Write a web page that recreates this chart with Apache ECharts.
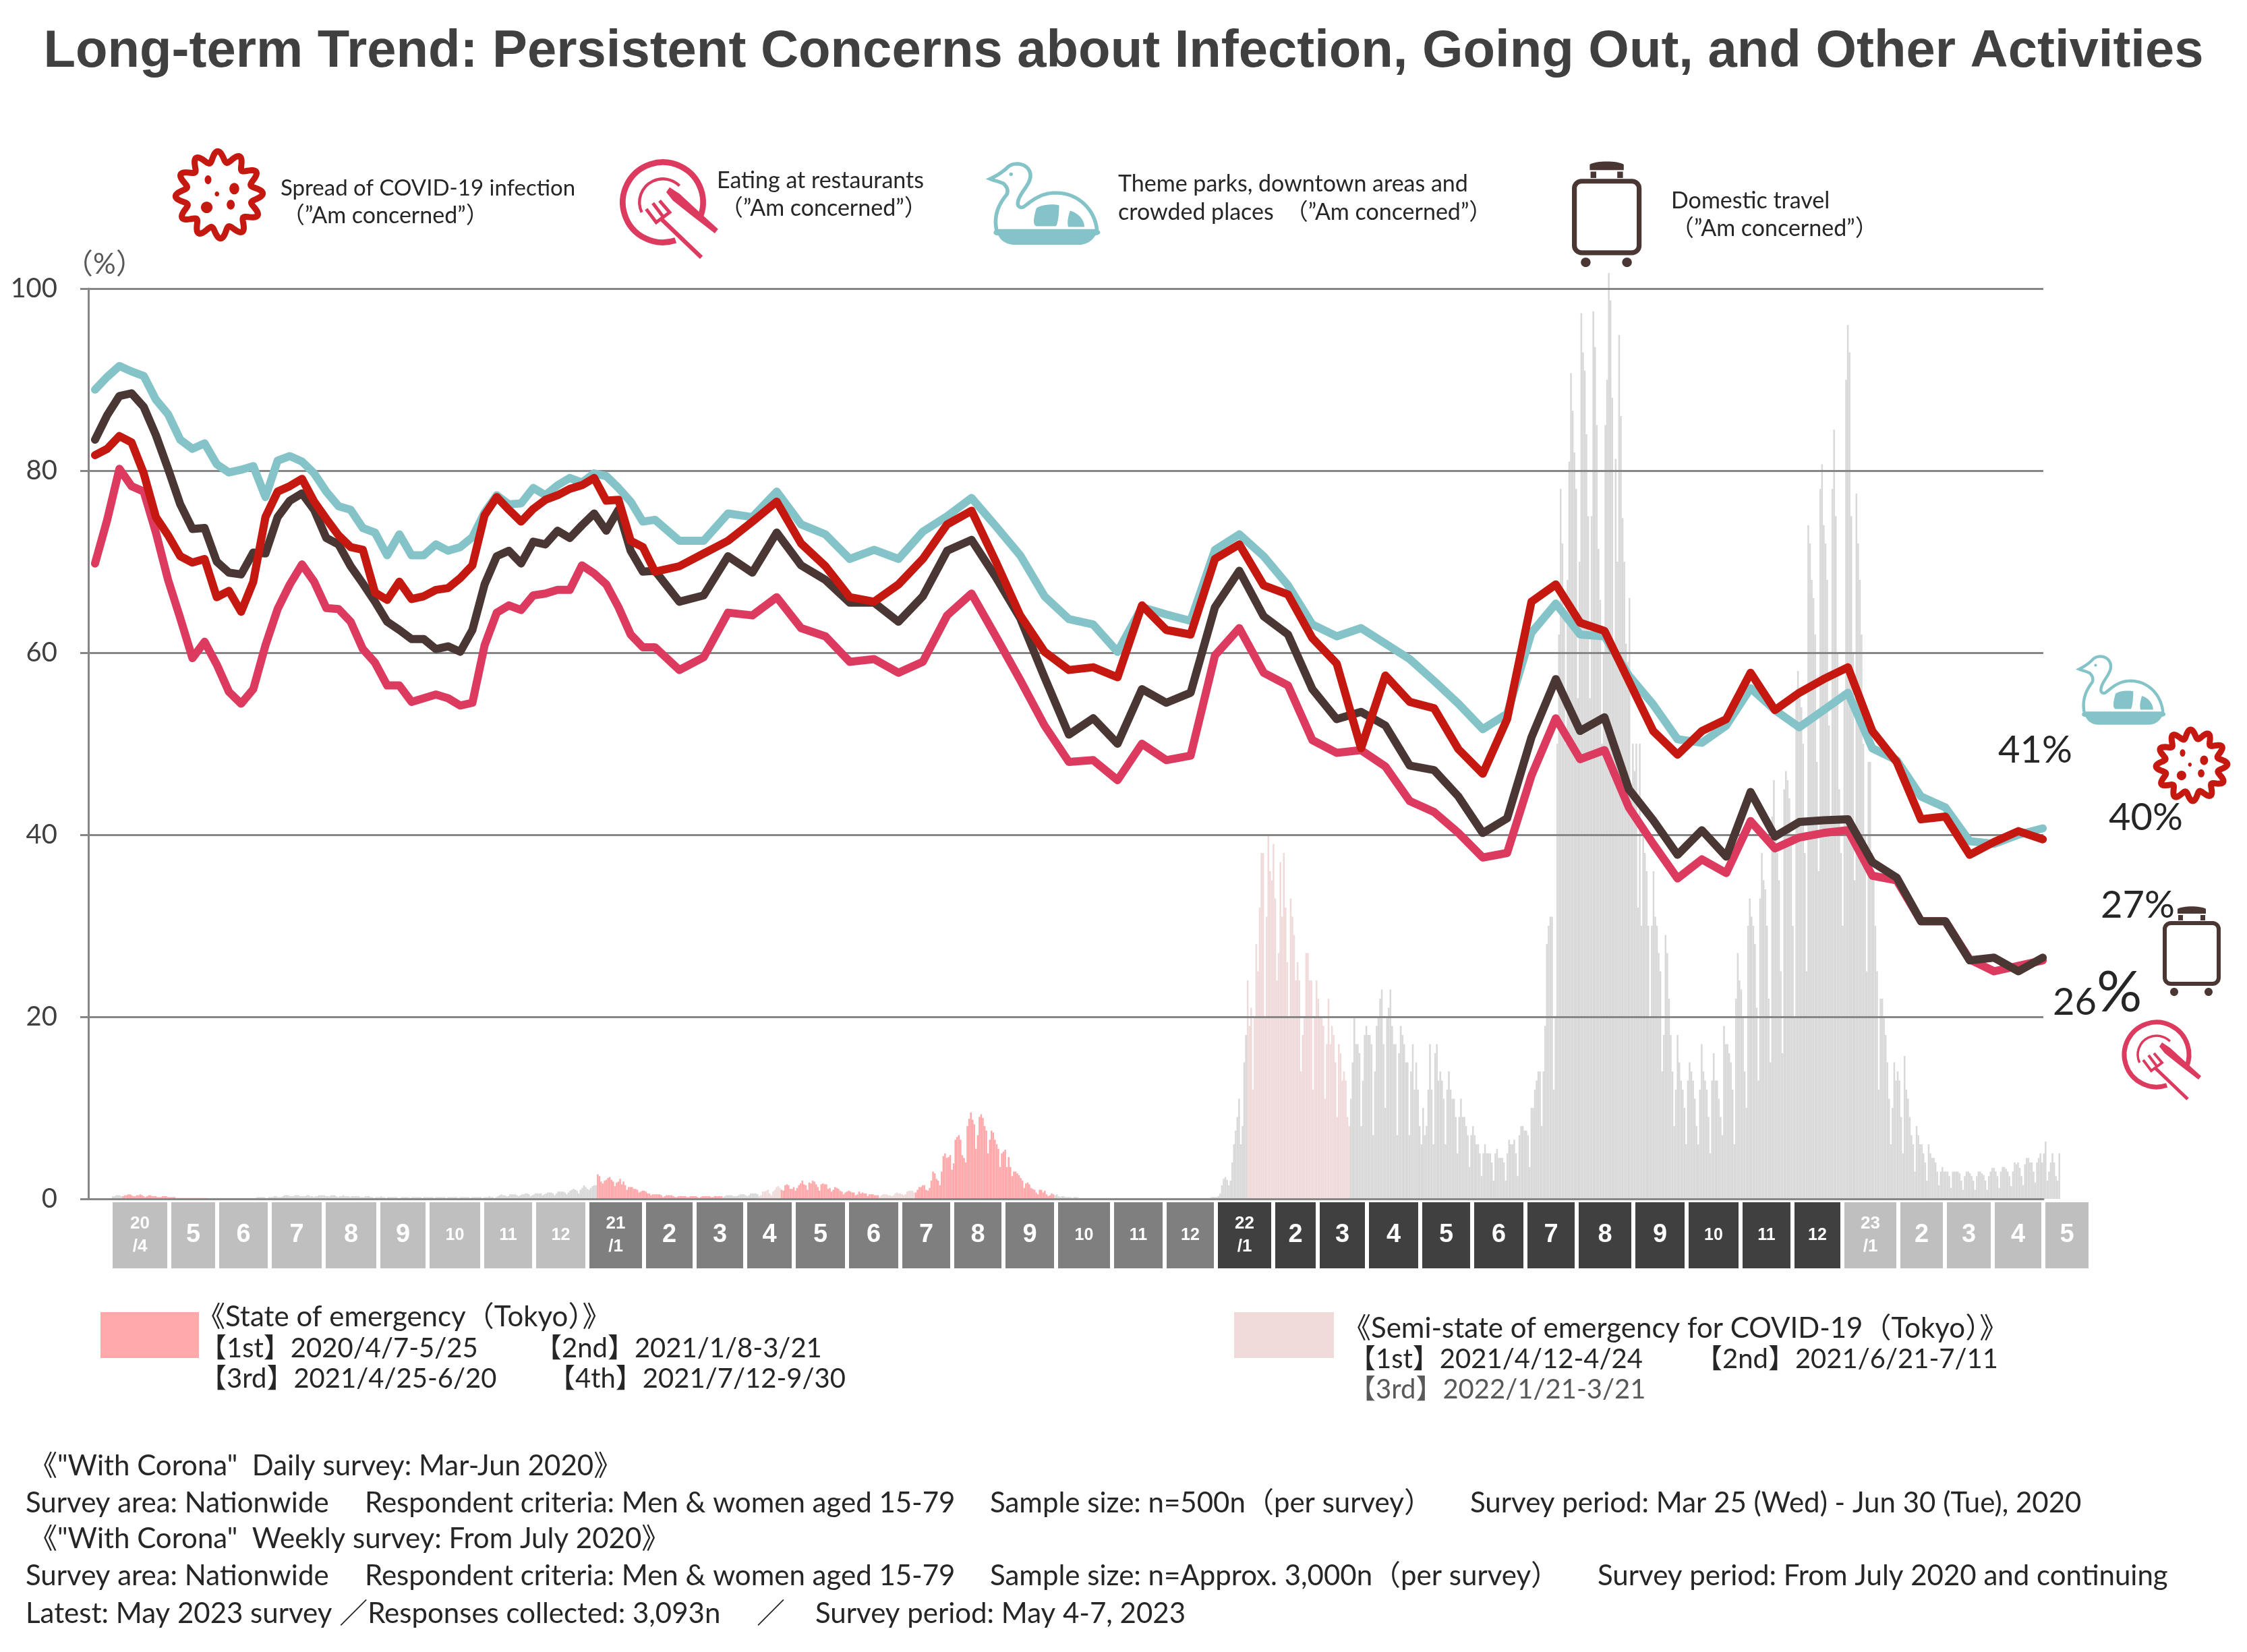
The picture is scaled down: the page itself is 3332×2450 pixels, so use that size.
<!DOCTYPE html>
<html><head><meta charset="utf-8">
<style>html,body{margin:0;padding:0;background:#fff}#c{width:3332px;height:2450px}</style>
<script src="https://cdn.jsdelivr.net/npm/echarts@6/dist/echarts.min.js"></script>
</head><body><div id="c"></div>
<script>
const TITLE = 'Long-term Trend: Persistent Concerns about Infection, Going Out, and Other Activities';

// survey position in weeks since 2020/3/25
const surveyWeeks = [0,1,2,3,4,5,6,7,8,9,10,11,12,13,14,15,16,17,18,19,20,21,22,23,24,25,26,27,28,29,30,31,32,33,34,35,36,37,38,39,40,41,42,43,44,45,46,
 48,50,52,54,56,58,60,62,64,66,68,70,72,74,76,78,80,82,84,86,88,90,92,94,96,98,100,102,104,106,108,110,112,114,116,118,120,122,124,126,128,130,132,134,136,138,140,142,144,146,148,150,152,154,156,158,160];

const themeParks = [88.9,90.3,91.5,90.9,90.4,87.8,86.2,83.4,82.4,83,80.7,79.8,80.1,80.5,77.1,81.1,81.6,81,79.7,77.7,76.1,75.7,73.7,73.2,70.7,73,70.7,70.7,71.9,71.2,71.6,72.7,75.4,77.3,76.3,76.4,78.1,77.3,78.4,79.2,78.7,79.7,79.4,78.1,76.6,74.4,74.6,
 72.3,72.3,75.3,74.9,77.7,74.1,73,70.3,71.3,70.3,73.3,75,77,73.9,70.7,66.2,63.7,63.1,60.1,65,64.2,63.5,71.3,73,70.6,67.4,63.1,61.8,62.7,61,59.3,56.9,54.4,51.6,53.3,62.2,65.4,62,61.8,57.5,54.3,50.5,50.1,52,56.1,53.7,51.8,53.7,55.6,49.5,48.2,44.2,43,39.3,39,40,40.7];
const restaurants = [69.8,74.6,80.2,78.3,77.7,73.2,68,63.8,59.4,61.2,58.7,55.7,54.4,56,60.8,64.8,67.5,69.7,67.8,64.9,64.8,63.4,60.4,58.9,56.4,56.4,54.6,55,55.4,55,54.2,54.5,60.8,64.4,65.2,64.7,66.3,66.5,66.9,66.9,69.6,68.7,67.5,65,62,60.6,60.6,
 58.1,59.5,64.4,64.1,66.1,62.7,61.8,59,59.3,57.8,59,64.1,66.5,61.8,57,52,48,48.2,46,50,48.2,48.7,59.7,62.7,57.8,56.4,50.4,49,49.3,47.5,43.7,42.5,40.2,37.5,38,46.5,52.8,48.3,49.3,43,39,35.2,37.3,35.8,41.5,38.5,39.7,40.2,40.5,35.5,35,30.5,30.5,26.3,25,25.6,26.2];
const domesticTravel = [83.4,86.1,88.2,88.5,87,83.9,80.2,76.3,73.6,73.7,70,68.8,68.6,71,70.9,74.9,76.7,77.5,75.7,72.6,71.9,69.5,67.6,65.6,63.4,62.5,61.5,61.5,60.4,60.7,60.1,62.5,67.5,70.6,71.2,69.8,72.2,71.9,73.4,72.6,74,75.3,73.4,75.7,71.2,68.9,69,
 65.6,66.3,70.6,68.8,73.2,69.6,68,65.5,65.5,63.4,66.2,71.2,72.4,68.3,63.8,57.3,51,52.8,50,56,54.5,55.6,65,69,64,62,56,52.7,53.5,52,47.6,47.1,44.2,40.2,41.8,50.7,57.1,51.4,52.9,45,41.6,37.8,40.5,37.6,44.7,39.8,41.4,41.6,41.7,37,35.3,30.5,30.5,26.2,26.5,25,26.5];
const infection = [81.7,82.4,83.8,83.1,79.7,74.9,72.9,70.6,69.9,70.3,66.1,66.8,64.5,67.8,74.9,77.7,78.3,79.1,76.6,74.7,72.9,71.6,71.3,66.6,65.8,67.8,65.9,66.2,66.9,67.1,68.2,69.6,75.1,77.1,75.7,74.4,75.8,76.8,77.3,78,78.4,79.2,76.7,76.8,72.3,71.6,68.9,
 69.5,70.9,72.3,74.4,76.6,72,69.5,66.1,65.6,67.5,70.3,74.1,75.6,70,64.1,60.1,58.1,58.4,57.3,65.2,62.5,62,70.3,71.9,67.4,66.4,61.6,58.8,49.5,57.5,54.6,53.9,49.4,46.7,52.7,65.6,67.5,63.3,62.4,56.9,51.4,48.8,51.4,52.7,57.8,53.7,55.6,57.1,58.4,51.4,48,41.7,42,37.8,39.2,40.4,39.5];

// daily new cases in Tokyo, chart-height scale, one row per week, starting Wed 2020/4/1
const FIRST_DAY = '2020-04-01';
const dailyCases = [
.3,.3,.4,.4,.4,.3,.3, .4,.4,.5,.5,.4,.3,.3, .4,.4,.5,.4,.3,.2,.3, .4,.4,.3,.3,.3,.2,.2, .2,.3,.3,.3,.2,.2,.2,
.2,.2,.1,.1,.1,.1,.1, .1,.1,.1,.1,.1,.1,.1, .1,.1,.1,.1,.1,.1,.1, .1,.1,.1,.1,.1,.1,.1, .1,.1,.1,.1,.1,.1,.1,
.1,.1,.1,.1,.1,.1,.1, .1,.1,.1,.1,.1,.1,.1, .2,.2,.2,.2,.2,.1,.1, .2,.2,.2,.3,.3,.2,.2, .2,.3,.4,.4,.4,.3,.3,
.3,.4,.4,.4,.3,.3,.3, .3,.4,.4,.3,.3,.2,.3, .3,.4,.4,.4,.4,.3,.3, .3,.4,.4,.4,.3,.2,.3, .3,.4,.3,.3,.3,.2,.3,
.3,.3,.3,.3,.2,.2,.2, .3,.3,.3,.2,.2,.1,.2, .2,.2,.3,.2,.2,.1,.2, .2,.2,.2,.2,.2,.1,.1, .2,.2,.2,.2,.2,.1,.2,
.2,.2,.2,.2,.2,.1,.2, .2,.2,.2,.2,.2,.1,.2, .2,.2,.2,.2,.2,.1,.2, .2,.2,.2,.2,.2,.1,.2, .2,.2,.2,.2,.2,.1,.2,
.2,.2,.2,.2,.2,.1,.2, .2,.2,.3,.2,.2,.1,.2, .3,.4,.5,.4,.4,.3,.3, .5,.5,.5,.5,.4,.3,.4, .5,.5,.6,.6,.5,.3,.4,
.5,.6,.6,.6,.6,.4,.5, .6,.7,.7,.7,.6,.4,.6, .8,.8,.8,.8,.7,.5,.7, .9,1,1.1,1,.9,.6,1, 1.2,1.5,1.3,1.1,1,1.2,1.4,
1.5,1.5,2.7,2.5,1.9,1.7,2, 2.1,2.3,2.4,2.1,1.9,1.4,1.8, 1.9,2.2,1.6,1.9,1.5,1,1.3, 1.3,1.3,1.1,1.1,1,.7,.8, .9,.9,.8,.6,.6,.4,.5,
.5,.5,.5,.5,.4,.2,.3, .4,.4,.4,.4,.3,.2,.2, .3,.3,.3,.3,.3,.2,.2, .3,.3,.3,.3,.2,.1,.2, .3,.3,.3,.3,.3,.2,.2,
.3,.3,.3,.3,.3,.2,.3, .4,.4,.4,.4,.3,.3,.3, .4,.5,.5,.5,.4,.3,.4, .6,.6,.6,.6,.5,.3,.4, .8,.8,.9,1,.6,.4,.8,
1,1.3,1.4,1.2,1,.9,1.5, 1.6,1.5,1.1,1.1,1.3,.9,1.2, 1.5,1.7,2,1.6,1.5,1,1.8, 1.7,2,1.9,1.6,1.3,.9,1.6, 1.7,1.6,1.6,1.1,1.2,.8,1,
1.3,1.2,1.1,.9,.8,.5,.7, .8,.9,.8,.7,.7,.4,.5, .8,.6,.7,.6,.6,.3,.5, .5,.5,.4,.4,.4,.2,.4, .5,.5,.5,.4,.4,.3,.4,
.6,.7,.6,.6,.5,.4,.5, .8,.9,.9,.9,.7,.7,1, 1.3,1.3,1.5,1.5,1,.9,1.2, 2,3,2.8,2.2,2,1.5,3, 4.7,5,4.5,4.6,4.8,3.2,3.9,
6.5,6.8,7,6.5,4.8,4.5,4, 8,8.8,9.5,8.7,8.2,5.5,7, 9,9.3,8.9,8,7.5,5,6.5, 7.5,7.3,6.5,6,5.5,3.5,5, 5.2,5.4,3.5,4.6,3.5,2.5,3,
3,2.8,2.6,2.3,2,1.2,1.7, 1.8,1.6,1.2,1.1,1,.7,.5, 1,1,.7,.9,.5,.3,.4, .6,.5,.4,.5,.3,.2,.3, .3,.2,.2,.2,.2,.1,.2,
.2,.2,.1,.1,.1,.1,.1, .1,.1,.1,.1,.1,.1,.1, .1,.1,.1,.1,.1,.1,.1, .1,.1,.1,.1,.1,.1,.1, .1,.1,.1,.1,.1,.1,.1,
.1,.1,.1,.1,.1,.1,.1, .1,.1,.1,.1,.1,.1,.1, .1,.1,.1,.1,.1,.1,.1, .1,.1,.1,.1,.1,.1,.1, .1,.1,.1,.1,.1,.1,.1, .1,.1,.1,.1,.1,.1,.1,
.1,.1,.2,.2,.2,.2,.3, .6,1.5,2.2,2.4,2.1,1.5,2, 4,6,7.5,9,11,6,8, 15,18,24,19,21,12,20, 28,25,32,38,38,20,31,
40,36,35,39,33,24,27, 37,31,38,32,26,20,33, 31,29,24,26,24,14,18, 20,27,27,24,24,12,20, 24,22,20,20,19,11,17,
22,17,19,18,15,9,17, 16,13,14,13,9,8,11, 15,20,17,17,16,8,13, 18,19,18,18,17,7,14, 19,20,22,23,17,10,20,
21,23,19,17,17,7,16, 19,18,17,15,15,7,14, 17,12,15,12,8,6,10, 7,8,12,17,12,6,16, 17,13,14,13,11,6,12,
14,12,11,11,9,5,9, 11,9,9,8,7,3.5,7, 8,7,6,6,5,2.5,5, 6,5,5,5,4,2,5, 5.5,4.5,4.5,4.5,4,2,5,
6.5,6,6,6.5,5,2.5,7, 8,8,7.5,7.5,7,3.5,10, 10,12,13,14,14,8,14, 19,28,30,31,31,12,20,
50,62,78,72,65,50,68, 81,90.7,86.6,82,78,55,70, 97.3,93,91,84,75,55,75, 97.5,93.6,85,71.4,65.8,50,60, 85,90,101.7,98.7,88,60,81.3,
70,94.9,86,74.8,70,61,59, 66,45,50,47,50,32,50, 30,40,38,36,30,20,30, 36,31,30,27,25,14,18, 29,27,22,18,14,8,12,
18,15,13,12,10,6,13, 15,14,13,11,8,6,12, 17,14,13,12,9,5,13, 16,13,13,11,9,7,19, 17,17,16,15,12,6,22,
27,24,23,20,14,10,30, 33,31,30,28,21,13,33, 38,35,34,30,22,15,42, 46,40,38,35,25,16,45, 47,46,44,40,30,20,55,
58,55,54,50,38,25,74, 72,68,66,62,48,36,78, 80.7,74,72,68,52,42,78, 84.5,75,60,45,38,30,55, 90,96,93,75,60,35,77.5,
72,68,62,50,40,25,48, 48,38,35,30,25,12,22, 22,20,18,15,11,6,10, 15,13,14,13,9,5,15.7, 12,11,9,7,6,3,8,
7,6,6,5,4,2,6, 5,4.5,4.5,4,3,1.5,3, 3.5,3,3,3,2.5,1.2,3, 3,3,3,2.8,2,1,2.5, 3,3,2.8,2.5,2,1,2.5,
3,3,2.8,2.6,2,1,2.5, 3,3.4,3.4,3,2.5,1.2,3, 3.5,3.5,3.3,3,2.5,1.4,3, 4,3.8,4,3.4,2.5,1.5,3.8, 4.5,4.5,4,4,3,1.8,4,
4.5,5,4,5,6.3,2,3, 4,5,4,2.5,2,5
];

const emergencyPeriods = [['2020-04-07','2020-05-25'],['2021-01-08','2021-03-21'],['2021-04-25','2021-06-20'],['2021-07-12','2021-09-30']];
const semiPeriods = [['2021-04-12','2021-04-24'],['2021-06-21','2021-07-11'],['2022-01-21','2022-03-21']];

const monthLabels = ['20\n/4','5','6','7','8','9','10','11','12','21\n/1','2','3','4','5','6','7','8','9','10','11','12','22\n/1','2','3','4','5','6','7','8','9','10','11','12','23\n/1','2','3','4','5'];
const monthPeriod = [0,0,0,0,0,0,0,0,0,1,1,1,1,1,1,1,1,1,1,1,1,2,2,2,2,2,2,2,2,2,2,2,2,0,0,0,0,0];
// relative span of each month cell in the strip
const monthSpan = [87,71,78,80,81,73,81,77,79,84,75,75,72,79,79,77,76,78,83,78,76,85,66,73,79,77,79,76,84,79,80,77,74,83,69,71,75,70];

const legendNotes = [
 ['Spread of COVID-19 infection','（”Am concerned”）'],
 ['Eating at restaurants','（”Am concerned”）'],
 ['Theme parks, downtown areas and','crowded places　（”Am concerned”）'],
 ['Domestic travel','（”Am concerned”）']
];
const endLabels = ['41%','40%','27%','26'];
const emergencyText = ['《State of emergency（Tokyo）》','【1st】2020/4/7-5/25','【2nd】2021/1/8-3/21','【3rd】2021/4/25-6/20','【4th】2021/7/12-9/30'];
const semiText = ['《Semi-state of emergency for COVID-19（Tokyo）》','【1st】2021/4/12-4/24','【2nd】2021/6/21-7/11','【3rd】2022/1/21-3/21'];
const footerText = [
 '《"With Corona"  Daily survey: Mar-Jun 2020》',
 'Survey area: Nationwide','Respondent criteria: Men & women aged 15-79','Sample size: n=500n（per survey）','Survey period: Mar 25 (Wed) - Jun 30 (Tue), 2020',
 '《"With Corona"  Weekly survey: From July 2020》',
 'Survey area: Nationwide','Respondent criteria: Men & women aged 15-79','Sample size: n=Approx. 3,000n（per survey）','Survey period: From July 2020 and continuing',
 'Latest: May 2023 survey ／Responses collected: 3,093n','／','Survey period: May 4-7, 2023'
];

// ---- colours & fonts
const TEAL='#84C4C9', BROWN='#4A3632', RED='#C41810', PINK='#DC3B5F', GRID='#868686';
const FONT="Lato,'Noto Sans CJK JP',sans-serif";
const BOLD="'Liberation Sans',Arial,sans-serif";
const EMERG='#FFA9AB', SEMI='#F0DADA', OTHER='#D9D9D9';
const periodColors=['#BFBFBF','#7F7F7F','#404040'];

// ---- day colours from the period tables
const dayMs=86400000, t0=Date.parse(FIRST_DAY);
function inside(t,list){return list.some(p=>t>=Date.parse(p[0])&&t<=Date.parse(p[1]));}
const barData=dailyCases.map((v,i)=>{const t=t0+i*dayMs;
  return {value:v,itemStyle:{color:inside(t,emergencyPeriods)?EMERG:inside(t,semiPeriods)?SEMI:OTHER}};});
const lineData=a=>a.map((v,i)=>[surveyWeeks[i],v]);

// ---- icons
// outline commands (M, L, C, Z with absolute coords) sampled to polygon vertices for the graphic component
function outline(d){
  const n=d.match(/[MLCZ]|-?[\d.]+/g);let i=0,pts=[],cur=[0,0];
  while(i<n.length){const c=n[i++];
    if(c==='M'||c==='L'){cur=[+n[i++],+n[i++]];pts.push(cur);}
    else if(c==='C'){const a=[+n[i++],+n[i++]],b=[+n[i++],+n[i++]],e=[+n[i++],+n[i++]];
      for(let s=1;s<=16;s++){const t=s/16,u=1-t;
        pts.push([u*u*u*cur[0]+3*u*u*t*a[0]+3*u*t*t*b[0]+t*t*t*e[0],u*u*u*cur[1]+3*u*u*t*a[1]+3*u*t*t*b[1]+t*t*t*e[1]]);}
      cur=e;}
  }
  return pts;
}
function virus(cx,cy,R){
  const pts=[];for(let i=0;i<240;i++){const a=i/240*2*Math.PI;const r=R*(0.86+0.12*Math.cos(12*a+0.4));pts.push([r*Math.cos(a),r*Math.sin(a)]);}
  const k=R/100,lw=Math.max(9,R*0.13);
  const dots=[[-25,-34,7.5,10],[34,-14,11,13],[-5,-2,5,5.5],[-28,28,13,13],[26,22,9,11]];
  return {type:'group',x:cx,y:cy,silent:true,children:[
    {type:'polygon',shape:{points:pts},style:{fill:null,stroke:RED,lineWidth:lw}},
    ...dots.map(d=>({type:'ellipse',shape:{cx:d[0]*k,cy:d[1]*k,rx:d[2]*k,ry:d[3]*k},style:{fill:RED}}))]};
}
function plate(cx,cy,s){
  return {type:'group',x:cx,y:cy,scaleX:s,scaleY:s,silent:true,children:[
    {type:'arc',shape:{cx:0,cy:0,r:48,startAngle:1.25,endAngle:0.42+2*Math.PI},style:{stroke:PINK,fill:null,lineWidth:7,lineCap:'butt'}},
    {type:'arc',shape:{cx:0,cy:0,r:28,startAngle:2.7,endAngle:5.5},style:{stroke:PINK,fill:null,lineWidth:3.5,lineCap:'butt'}},
    {type:'polygon',shape:{points:[[8,-18],[20,-10],[44,12],[66,32],[62,37],[32,14],[12,-2],[4,-12]]},style:{fill:PINK}},
    {type:'polyline',shape:{points:[[-2,20],[46,66]]},style:{stroke:PINK,fill:null,lineWidth:5}},
    {type:'polyline',shape:{points:[[-20,8],[-8,24],[8,12],[-4,-2]]},style:{stroke:PINK,fill:null,lineWidth:4}},
    {type:'polyline',shape:{points:[[-12,1],[0,17]]},style:{stroke:PINK,fill:null,lineWidth:4}}]};
}
function swan(x,y,sx,sy){
  return {type:'group',x,y,scaleX:sx,scaleY:sy,silent:true,children:[
    {type:'polygon',shape:{points:outline('M0,22 C10,17 16,12 20,8 C28,-2 48,2 48,18 C48,30 33,42 33,54 C33,58 37,60 40,58 C50,50 60,40 78,40 C105,40 125,62 127,89 L8,89 C4,70 10,55 20,42 C22,36 20,32 16,28 C10,25 4,24 0,22 Z')},style:{fill:null,stroke:TEAL,lineWidth:4.5}},
    {type:'polygon',shape:{points:outline('M5,89 L130,89 C132,92 130,94 125,95 C120,104 112,107 105,107 L30,107 C18,107 12,100 10,95 C5,95 3,92 5,89 Z')},style:{fill:TEAL}},
    {type:'polygon',shape:{points:outline('M55,60 C60,55 75,54 82,56 C82,70 80,82 78,83 L56,83 C52,83 50,78 55,60 Z')},style:{fill:TEAL}},
    {type:'polygon',shape:{points:outline('M95,63 C105,66 112,75 112,84 L93,84 C91,78 93,70 95,63 Z')},style:{fill:TEAL}},
    {type:'circle',shape:{cx:25,cy:16,r:2.2},style:{fill:TEAL}}]};
}
function suitcase(x,y,sx,sy){
  return {type:'group',x,y,scaleX:sx,scaleY:sy,silent:true,children:[
    {type:'polygon',shape:{points:outline('M22,12 L22,5 C30,0 56,0 64,5 L64,12 Z')},style:{fill:BROWN}},
    {type:'rect',shape:{x:23,y:14,width:7,height:8},style:{fill:BROWN}},
    {type:'rect',shape:{x:56,y:14,width:7,height:8},style:{fill:BROWN}},
    {type:'rect',shape:{x:3,y:26,width:80,height:90,r:9},style:{fill:null,stroke:BROWN,lineWidth:6}},
    {type:'ellipse',shape:{cx:17,cy:128,rx:6,ry:6},style:{fill:BROWN}},
    {type:'ellipse',shape:{cx:68,cy:128,rx:6,ry:6},style:{fill:BROWN}}]};
}
// ---- text helper (left, vertical middle)
function T(x,y,text,size,color){
  return {type:'text',x,y,silent:true,style:{text,fontFamily:FONT,fontSize:size,fill:color||'#262626',textVerticalAlign:'middle',verticalAlign:'middle'}};
}
const F=42, D=40, L=34;
const graphics=[
  T(96,392,'（%）',42,'#595959'),
  virus(325,289,66), T(416,279,legendNotes[0][0],33), T(418,320,legendNotes[0][1],L),
  plate(983,300,1.24), T(1063,268,legendNotes[1][0],L), T(1068,309,legendNotes[1][1],L),
  swan(1468,240,1.25,1.15), T(1658,273,legendNotes[2][0],L), T(1658,315,legendNotes[2][1],L),
  suitcase(2331,238,1.2,1.18), T(2478,298,legendNotes[3][0],L), T(2478,339,legendNotes[3][1],L),

  swan(3083,971,0.98,0.97), virus(3250,1135,54), suitcase(3207,1343,1,1), plate(3198,1564,1),
  T(2963,1113,endLabels[0],56), T(3127,1213,endLabels[1],56), T(3115,1343,endLabels[2],56),
  {type:'text',x:3044,y:1473,silent:true,style:{text:'{a|'+endLabels[3]+'}{b|%}',verticalAlign:'middle',rich:{a:{fontFamily:FONT,fontSize:56,fill:'#262626',verticalAlign:'bottom'},b:{fontFamily:FONT,fontSize:84,fill:'#262626',verticalAlign:'bottom'}}}},

  {type:'rect',shape:{x:149,y:1946,width:146,height:68},style:{fill:EMERG},silent:true},
  {type:'rect',shape:{x:1830,y:1946,width:148,height:68},style:{fill:SEMI},silent:true},
  T(292,1953,emergencyText[0],F), T(296,2000,emergencyText[1],D), T(793,2000,emergencyText[2],D), T(296,2045,emergencyText[3],D), T(813,2045,emergencyText[4],D),
  T(1991,1970,semiText[0],F), T(2000,2016,semiText[1],D), T(2514,2016,semiText[2],D), T(2000,2061,semiText[3],D,'#595959'),

  T(43,2174,footerText[0],F),
  T(38,2229,footerText[1],F),T(541,2229,footerText[2],F),T(1468,2229,footerText[3],F),T(2180,2229,footerText[4],F),
  T(43,2282,footerText[5],F),
  T(38,2337,footerText[6],F),T(541,2337,footerText[7],F),T(1468,2337,footerText[8],F),T(2369,2337,footerText[9],F),
  T(38,2393,footerText[10],F),T(1122,2393,footerText[11],F),T(1209,2393,footerText[12],F),
];

const Y0=1778, PX=13.5;
const monthSeries=monthLabels.map((m,i)=>{const big=m.length===1;const two=m.length===2;
  return {type:'bar',name:'m'+i,stack:'months',xAxisIndex:2,yAxisIndex:2,barWidth:'100%',z:1,silent:true,data:[monthSpan[i]],
    itemStyle:{color:periodColors[monthPeriod[i]],borderColor:'#fff',borderWidth:3},
    label:{show:true,position:'inside',formatter:m,color:'#fff',fontFamily:BOLD,fontWeight:'bold',
      fontSize:big?38:two?25:26,lineHeight:big?40:two?28:34}};});
const lineSeries=(name,data,color,z)=>({type:'line',name,xAxisIndex:0,yAxisIndex:0,data:lineData(data),showSymbol:false,symbol:'none',z,silent:true,lineStyle:{color,width:12,cap:'round',join:'round'}});

const option={
  animation:false,backgroundColor:'#fff',
  title:{text:TITLE,left:'center',top:34,textStyle:{fontFamily:BOLD,fontWeight:'bold',fontSize:77.8,color:'#404040'}},
  grid:[
    {left:131,top:Y0-100*PX,width:2899,height:100*PX},
    {left:166,top:Y0-110*PX,width:2889,height:110*PX},
    {left:164,top:1780,width:2936,height:104}
  ],
  xAxis:[
    {gridIndex:0,type:'value',min:-0.55,max:160.05,z:3,splitLine:{show:false},axisTick:{show:false},axisLabel:{show:false},axisLine:{show:true,onZero:false,lineStyle:{color:GRID,width:3}}},
    {gridIndex:1,type:'category',show:false,data:dailyCases.map((_,i)=>i)},
    {gridIndex:2,type:'value',show:false,min:0,max:monthSpan.reduce((a,b)=>a+b,0),splitLine:{show:false}}
  ],
  yAxis:[
    {gridIndex:0,type:'value',min:0,max:100,interval:20,z:3,
     axisLine:{show:true,onZero:false,lineStyle:{color:GRID,width:3}},
     axisTick:{show:true,inside:false,length:12,lineStyle:{color:GRID,width:3}},
     splitLine:{show:true,lineStyle:{color:GRID,width:3}},
     axisLabel:{fontFamily:FONT,fontSize:40,color:'#404040',margin:46}},
    {gridIndex:1,type:'value',show:false,min:0,max:110,splitLine:{show:false}},
    {gridIndex:2,type:'category',show:false,data:['months']}
  ],
  series:[
    {type:'bar',name:'Daily new cases',xAxisIndex:1,yAxisIndex:1,data:barData,barWidth:'100%',z:1,silent:true},
    ...monthSeries,
    lineSeries('Theme parks',themeParks,TEAL,5),
    lineSeries('Restaurants',restaurants,PINK,6),
    lineSeries('Domestic travel',domesticTravel,BROWN,7),
    lineSeries('COVID-19 infection',infection,RED,8)
  ],
  graphic:{elements:graphics}
};
const chart=echarts.init(document.getElementById('c'),null,{renderer:'canvas',width:3332,height:2450});
chart.setOption(option);
</script></body></html>
